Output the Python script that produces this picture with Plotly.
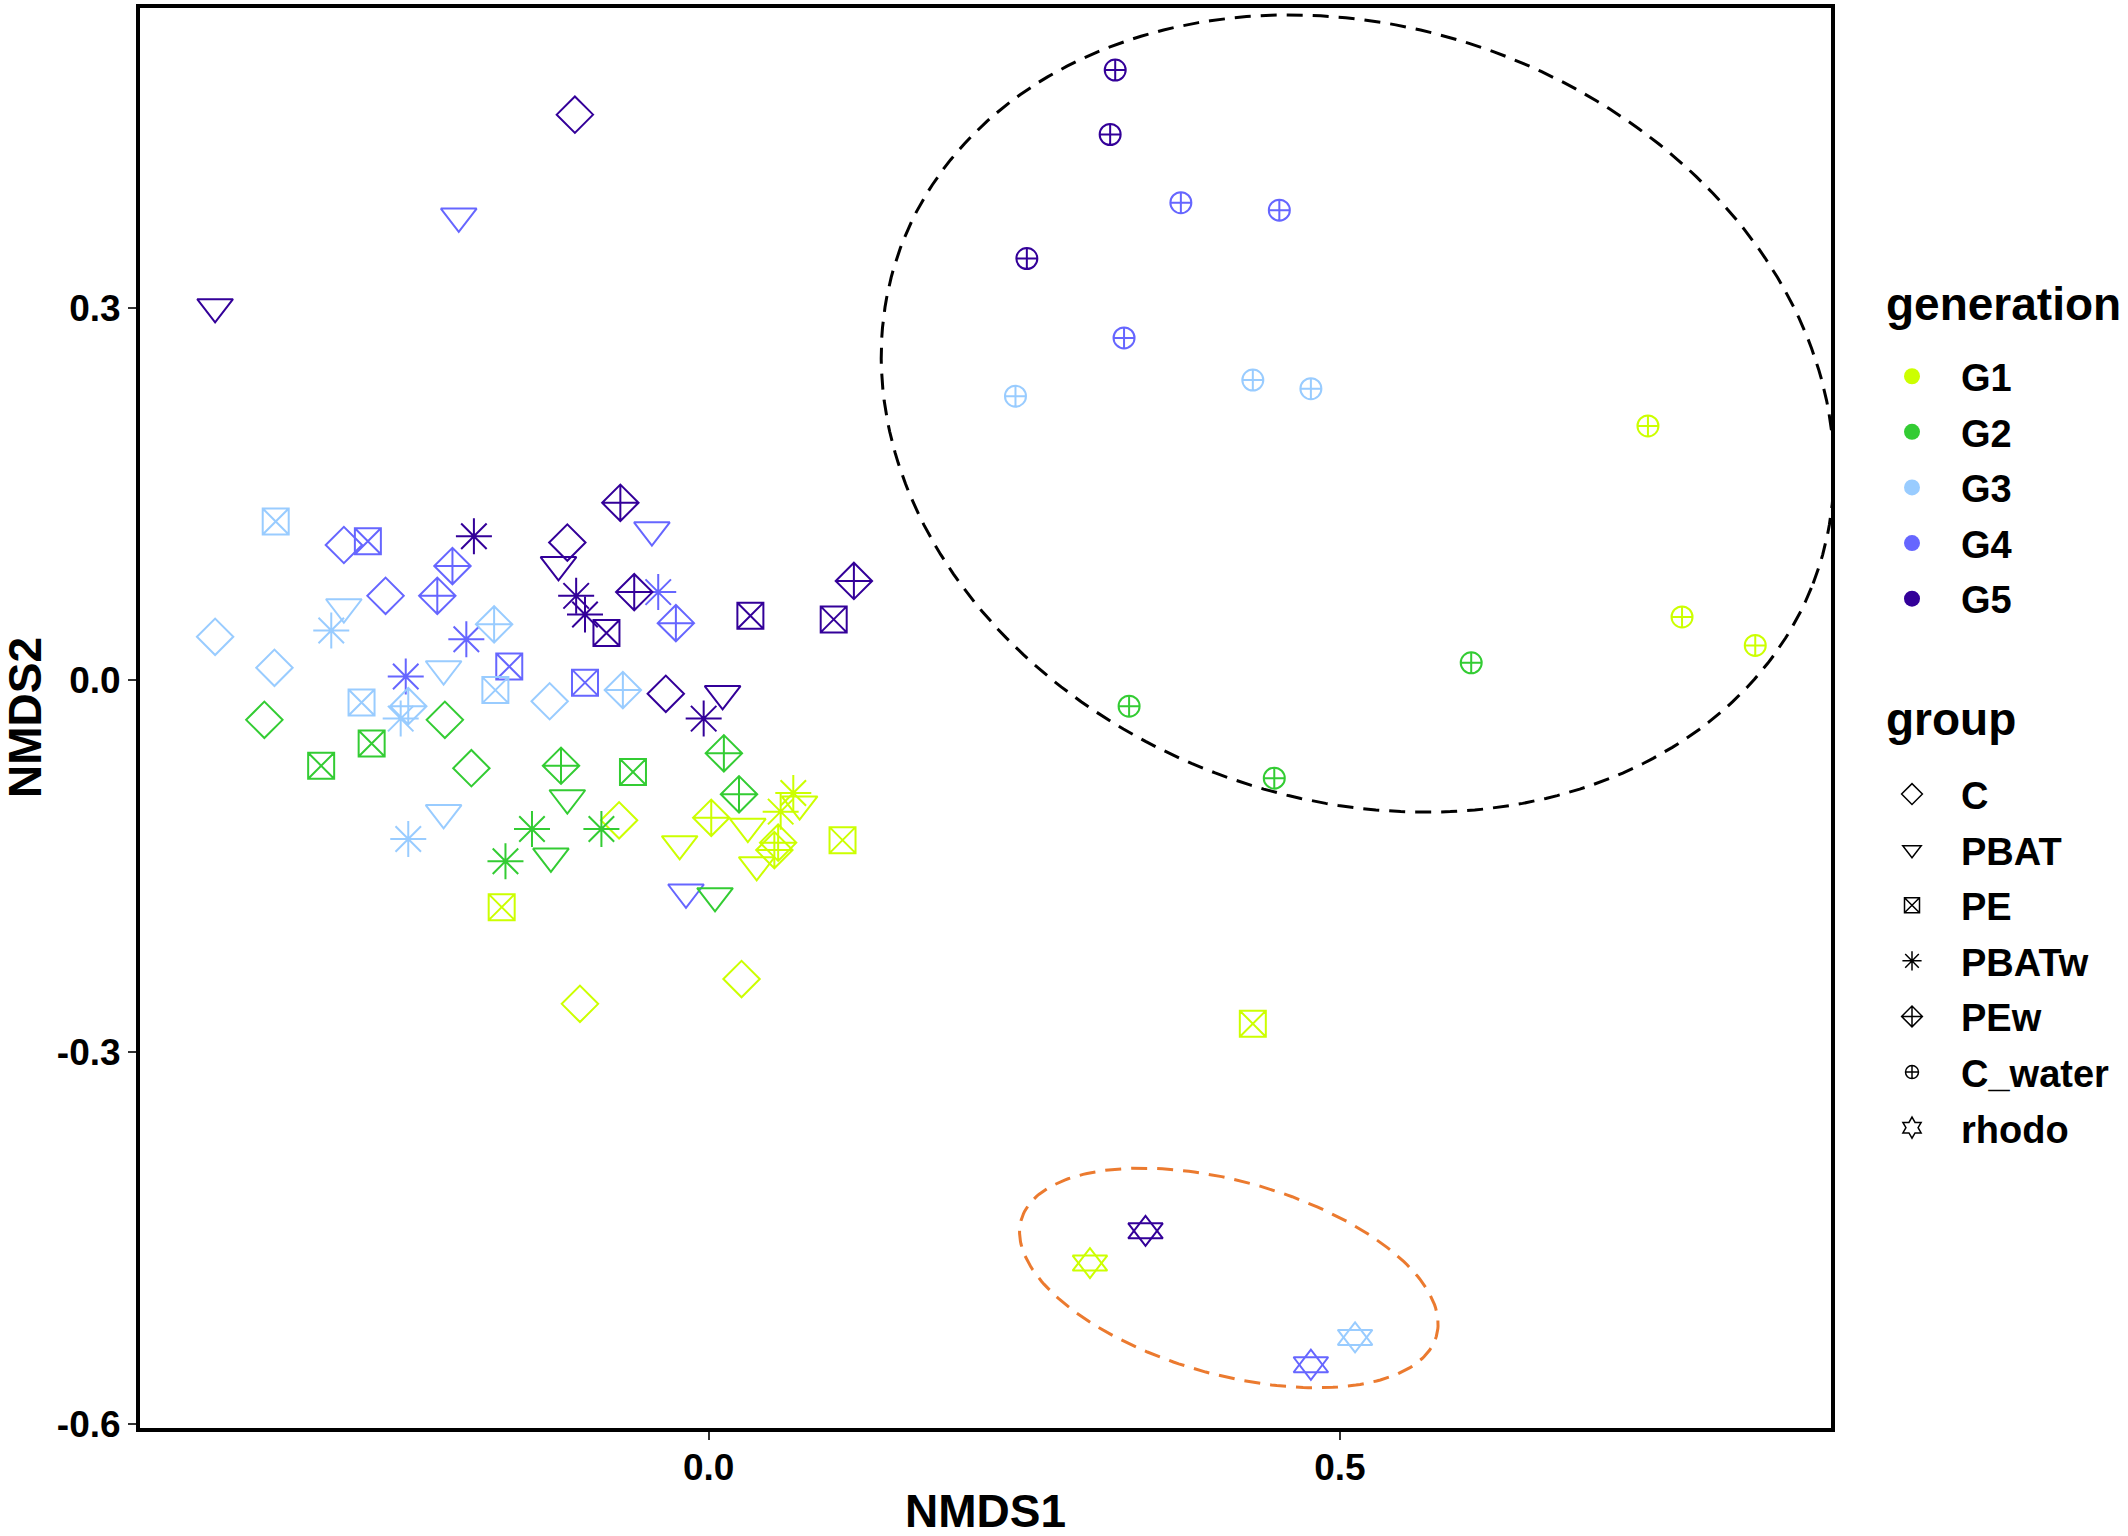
import numpy as np
import plotly.graph_objects as go

# ─── Data ─────────────────────────────────────────────────────────────────────

GENERATIONS = ["G1", "G2", "G3", "G4", "G5"]
GROUPS = ["C", "PBAT", "PE", "PBATw", "PEw", "C_water", "rhodo"]

C_x = [-0.106, -0.112, -0.034, -0.289, -0.256, -0.391, -0.344, -0.126,
       -0.352, -0.209, -0.188, -0.071, 0.026, -0.102]
C_y = [0.456, 0.111, -0.011, 0.109, 0.068, 0.035, 0.010, -0.017,
       -0.032, -0.032, -0.071, -0.113, -0.241, -0.261]
C_gen = ["G5", "G5", "G5", "G4", "G4", "G3", "G3", "G3",
         "G2", "G2", "G2", "G1", "G1", "G1"]

PBAT_x = [-0.391, -0.119, 0.011, -0.198, -0.045, -0.018, -0.289, -0.210,
          -0.210, -0.112, -0.125, 0.005, -0.023, 0.031, 0.072, 0.038]
PBAT_y = [0.301, 0.093, -0.011, 0.374, 0.121, -0.171, 0.059, 0.009,
          -0.107, -0.095, -0.142, -0.174, -0.132, -0.118, -0.100, -0.149]
PBAT_gen = ["G5", "G5", "G5", "G4", "G4", "G4", "G3", "G3",
            "G3", "G2", "G2", "G2", "G1", "G1", "G1", "G1"]

PE_x = [-0.081, 0.033, 0.099, -0.270, -0.158, -0.098, -0.343, -0.169,
        -0.275, -0.267, -0.307, -0.060, -0.164, 0.106, 0.431]
PE_y = [0.038, 0.052, 0.049, 0.112, 0.011, -0.002, 0.128, -0.008,
        -0.018, -0.051, -0.069, -0.074, -0.183, -0.129, -0.277]
PE_gen = ["G5", "G5", "G5", "G4", "G4", "G4", "G3", "G3",
          "G3", "G2", "G2", "G2", "G1", "G1", "G1"]

PBATw_x = [-0.186, -0.105, -0.098, -0.004, -0.192, -0.240, -0.040, -0.299,
           -0.244, -0.238, -0.140, -0.161, -0.085, 0.067, 0.057]
PBATw_y = [0.116, 0.068, 0.053, -0.031, 0.033, 0.003, 0.071, 0.040,
           -0.031, -0.128, -0.120, -0.146, -0.120, -0.091, -0.106]
PBATw_gen = ["G5", "G5", "G5", "G5", "G4", "G4", "G4", "G3",
             "G3", "G3", "G2", "G2", "G2", "G1", "G1"]

PEw_x = [-0.070, -0.059, 0.115, -0.203, -0.215, -0.026, -0.170, -0.238,
         -0.068, -0.117, 0.012, 0.024, 0.002, 0.055, 0.052]
PEw_y = [0.143, 0.071, 0.080, 0.092, 0.068, 0.046, 0.045, -0.021,
         -0.008, -0.069, -0.059, -0.092, -0.111, -0.131, -0.137]
PEw_gen = ["G5", "G5", "G5", "G4", "G4", "G4", "G3", "G3",
           "G3", "G2", "G2", "G2", "G1", "G1", "G1"]

Cwater_x = [0.322, 0.318, 0.252, 0.374, 0.452, 0.329, 0.243, 0.431,
            0.477, 0.604, 0.333, 0.448, 0.744, 0.771, 0.829]
Cwater_y = [0.492, 0.440, 0.340, 0.385, 0.379, 0.276, 0.229, 0.242,
            0.235, 0.014, -0.021, -0.079, 0.205, 0.051, 0.028]
Cwater_gen = ["G5", "G5", "G5", "G4", "G4", "G4", "G3", "G3",
              "G3", "G2", "G2", "G2", "G1", "G1", "G1"]

rhodo_x = [0.302, 0.346, 0.477, 0.512]
rhodo_y = [-0.470, -0.444, -0.552, -0.530]
rhodo_gen = ["G1", "G5", "G4", "G3"]

# stat_ellipse outlines: centre, semi-axes, rotation (deg)
ELLIPSE_CWATER = dict(cx=0.514, cy=0.215, a=0.386, b=0.311, angle=-20.8)
ELLIPSE_RHODO = dict(cx=0.412, cy=-0.482, a=0.171, b=0.078, angle=-16.0)

X_TICKS = [0.0, 0.5]
X_TICKTEXT = ["0.0", "0.5"]
Y_TICKS = [-0.6, -0.3, 0.0, 0.3]
Y_TICKTEXT = ["-0.6", "-0.3", "0.0", "0.3"]

# ─── Styles ───────────────────────────────────────────────────────────────────

GEN_COLORS = {
    "G1": "#CCFF00",
    "G2": "#33CC33",
    "G3": "#99CCFF",
    "G4": "#6666FF",
    "G5": "#330099",
}

FONT = "Liberation Sans, Arial, sans-serif"

# page size and panel position in pixels
W, H = 2128, 1536
M_L, M_R, M_T, M_B = 140, 297, 4, 108


def ellipse_xy(e, n=240):
    t = np.linspace(0, 2 * np.pi, n)
    th = np.deg2rad(e["angle"])
    x = e["cx"] + e["a"] * np.cos(th) * np.cos(t) - e["b"] * np.sin(th) * np.sin(t)
    y = e["cy"] + e["a"] * np.sin(th) * np.cos(t) + e["b"] * np.cos(th) * np.sin(t)
    return x, y


fig = go.Figure()

# ─── Ellipses ────────────────────────────────────────────────────────────────

for e, col in [(ELLIPSE_CWATER, "black"), (ELLIPSE_RHODO, "#EB7A2F")]:
    ex, ey = ellipse_xy(e)
    fig.add_trace(go.Scatter(
        x=ex, y=ey, mode="lines", showlegend=False, hoverinfo="skip",
        line=dict(color=col, width=3, dash="16px,10px"),
    ))

# ─── Points ──────────────────────────────────────────────────────────────────

point_sets = [
    (C_x, C_y, C_gen, "diamond-open", 28),
    (PBAT_x, PBAT_y, PBAT_gen, "triangle-down-open", 31),
    (PE_x, PE_y, PE_gen, "square-x-open", 26),
    (PBATw_x, PBATw_y, PBATw_gen, "asterisk-open", 30),
    (PEw_x, PEw_y, PEw_gen, "diamond-cross-open", 28),
    (Cwater_x, Cwater_y, Cwater_gen, "circle-cross-open", 21),
    (rhodo_x, rhodo_y, rhodo_gen, "triangle-up-open", 30),
    (rhodo_x, rhodo_y, rhodo_gen, "triangle-down-open", 30),
]

for xs, ys, gens, sym, size in point_sets:
    fig.add_trace(go.Scatter(
        x=xs, y=ys, mode="markers", showlegend=False,
        marker=dict(
            symbol=sym, size=size,
            color=[GEN_COLORS[g] for g in gens],
            line=dict(width=2),
        ),
    ))

# ─── Legend entries ──────────────────────────────────────────────────────────

for g in GENERATIONS:
    fig.add_trace(go.Scatter(
        x=[None], y=[None], mode="markers", name=g,
        legend="legend", legendgroup="gen_" + g,
        marker=dict(symbol="circle", size=16, color=GEN_COLORS[g]),
    ))

legend_symbols = {
    "C": ("diamond-open", 16),
    "PBAT": ("triangle-down-open", 16),
    "PE": ("square-x-open", 15),
    "PBATw": ("asterisk-open", 16),
    "PEw": ("diamond-cross-open", 16),
    "C_water": ("circle-cross-open", 13),
    "rhodo": ("hexagram-open", 16),
}
for grp in GROUPS:
    sym, size = legend_symbols[grp]
    fig.add_trace(go.Scatter(
        x=[None], y=[None], mode="markers", name=grp,
        legend="legend2", legendgroup="grp_" + grp,
        marker=dict(symbol=sym, size=size, color="black", line=dict(width=1.5)),
    ))

# ─── Layout ──────────────────────────────────────────────────────────────────

axis_common = dict(
    showgrid=False, zeroline=False,
    showline=True, mirror=True, linecolor="black", linewidth=4,
    ticks="outside", ticklen=8, tickwidth=1.5, tickcolor="#333333",
    tickfont=dict(family=FONT, size=37, color="black", weight="bold"),
    tickmode="array",
)

plot_w = W - M_L - M_R
plot_h = H - M_T - M_B


def px_x(p):
    return (p - M_L) / plot_w


def px_y(p):
    return (H - M_B - p) / plot_h


legend_common = dict(
    font=dict(family=FONT, size=38, color="black", weight="bold"),
    xanchor="left", yanchor="top",
    itemwidth=88, tracegroupgap=3.2, bgcolor="rgba(0,0,0,0)",
)

title_font = dict(family=FONT, size=46, color="black", weight="bold")

fig.update_layout(
    width=W, height=H,
    margin=dict(l=M_L, r=M_R, t=M_T, b=M_B),
    plot_bgcolor="white", paper_bgcolor="white",
    font=dict(family=FONT, color="black"),
    xaxis=dict(axis_common, range=[-0.4505, 0.889], ticklabelstandoff=-4,
               tickvals=X_TICKS, ticktext=X_TICKTEXT),
    yaxis=dict(axis_common, range=[-0.603, 0.542],
               tickvals=Y_TICKS, ticktext=Y_TICKTEXT),
    legend=dict(legend_common, x=px_x(1863), y=px_y(342)),
    legend2=dict(legend_common, x=px_x(1863), y=px_y(761)),
    annotations=[
        dict(text="NMDS1", xref="paper", yref="paper", x=0.5, y=px_y(1511),
             xanchor="center", yanchor="middle", showarrow=False,
             font=title_font),
        dict(text="NMDS2", xref="paper", yref="paper", x=px_x(25), y=0.5,
             xanchor="center", yanchor="middle", showarrow=False, textangle=-90,
             font=title_font),
        dict(text="generation", xref="paper", yref="paper",
             x=px_x(1884), y=px_y(301), xanchor="left", yanchor="middle",
             showarrow=False, font=title_font),
        dict(text="group", xref="paper", yref="paper",
             x=px_x(1884), y=px_y(717), xanchor="left", yanchor="middle",
             showarrow=False, font=title_font),
    ],
)

# drop the default 8px body margin so the figure fills the window exactly
fig.write_html(
    "out.html",
    config={"displayModeBar": False},
    post_script="document.body.style.margin='0';",
)
